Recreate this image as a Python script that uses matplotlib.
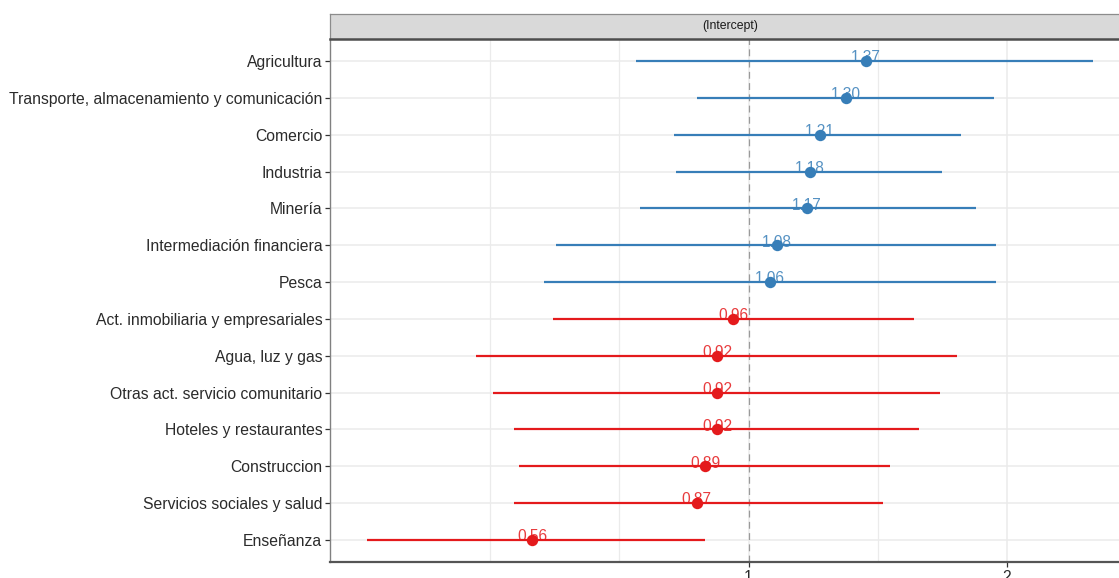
import matplotlib.pyplot as plt
from matplotlib.ticker import NullFormatter

plt.rcParams["font.family"] = ["Liberation Sans", "DejaVu Sans"]

# odds ratios per sector, top to bottom as in the figure
sectors = [
    "Agricultura",
    "Transporte, almacenamiento y comunicación",
    "Comercio",
    "Industria",
    "Minería",
    "Intermediación financiera",
    "Pesca",
    "Act. inmobiliaria y empresariales",
    "Agua, luz y gas",
    "Otras act. servicio comunitario",
    "Hoteles y restaurantes",
    "Construccion",
    "Servicios sociales y salud",
    "Enseñanza",
]
estimates = [1.37, 1.30, 1.21, 1.18, 1.17, 1.08, 1.06, 0.96, 0.92, 0.92, 0.92, 0.89, 0.87, 0.56]
ci_low = [0.740, 0.871, 0.819, 0.824, 0.747, 0.597, 0.578, 0.592, 0.481, 0.504, 0.533, 0.540, 0.533, 0.359]
ci_high = [2.52, 1.93, 1.77, 1.68, 1.84, 1.94, 1.94, 1.56, 1.75, 1.67, 1.58, 1.46, 1.435, 0.889]
x_ticks = [1, 2]
strip_title = "(Intercept)"

BLUE = "#377EB8"
RED = "#E41A1C"
W, H = 1119, 578

fig = plt.figure(figsize=(W / 100, H / 100), dpi=100)
ax = fig.add_axes([330 / W, 16 / H, 801 / W, 523 / H])

n = len(sectors)
ypos = list(range(n, 0, -1))
for y, est, lo, hi in zip(ypos, estimates, ci_low, ci_high):
    c = BLUE if est > 1 else RED
    ax.plot([lo, hi], [y, y], color=c, lw=1.6, solid_capstyle="butt", zorder=3)
    ax.annotate(f"{est:.2f}", (est, y), xytext=(0, 2.3), textcoords="offset points",
                ha="center", va="center", color=c, fontsize=11.2, alpha=0.85, zorder=3.5)
    ax.plot(est, y, "o", color=c, ms=8.2, mec="none", zorder=4)

ax.axvline(1, color="#9A9A9A", ls=(0, (5.5, 3.5)), lw=0.9, zorder=2)

ax.set_xscale("log")
ax.set_xlim(0.3254, 2.79)
ax.set_ylim(0.4, n + 0.6)
ax.set_xticks(x_ticks)
ax.set_xticklabels([str(t) for t in x_ticks])
ax.set_xticks([0.5, 2 ** -0.5, 2 ** 0.5], minor=True)
ax.xaxis.set_minor_formatter(NullFormatter())
ax.set_yticks(ypos)
ax.set_yticklabels(sectors)

ax.grid(which="major", color="#EBEBEB", lw=1.1, zorder=0)
ax.grid(which="minor", axis="x", color="#EBEBEB", lw=0.9, zorder=0)
ax.set_axisbelow(True)

ax.tick_params(axis="both", which="major", length=3.5, width=0.9, color="#333333",
               labelcolor="#2B2B2B", labelsize=11.3, pad=2)
ax.tick_params(axis="x", which="minor", length=0)
ax.tick_params(axis="x", labelsize=11.3)

for side in ("top", "right"):
    ax.spines[side].set_visible(False)
ax.spines["left"].set_color("#808080")
ax.spines["left"].set_linewidth(1.0)
ax.spines["bottom"].set_color("#555555")
ax.spines["bottom"].set_linewidth(1.6)

# facet strip on top
strip = fig.add_axes([330 / W, (H - 39) / H, 801 / W, 25 / H])
strip.set_facecolor("#D9D9D9")
strip.set_xticks([])
strip.set_yticks([])
for side in ("top", "left", "right"):
    strip.spines[side].set_color("#8C8C8C")
    strip.spines[side].set_linewidth(0.9)
strip.spines["bottom"].set_color("#4D4D4D")
strip.spines["bottom"].set_linewidth(1.8)
strip.text(0.5, 0.5, strip_title, ha="center", va="center", fontsize=8.8, color="#1A1A1A",
           transform=strip.transAxes)

fig.savefig("out.png", dpi=100)
